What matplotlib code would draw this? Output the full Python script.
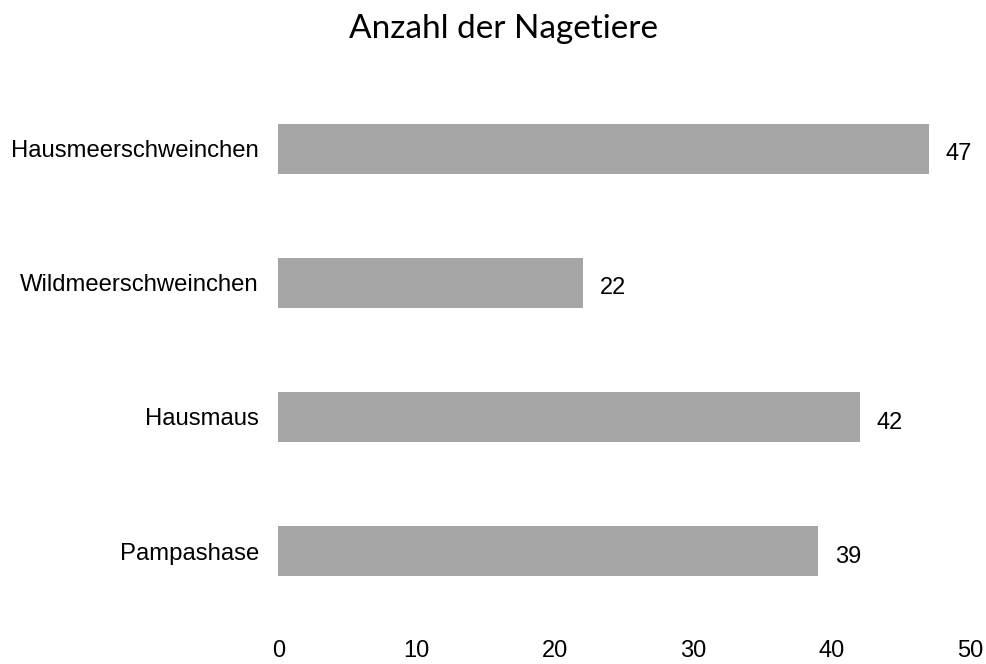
import matplotlib
matplotlib.use("Agg")
import matplotlib.pyplot as plt

categories = ["Hausmeerschweinchen", "Wildmeerschweinchen", "Hausmaus", "Pampashase"]
values = [47, 22, 42, 39]
xticks = [0, 10, 20, 30, 40, 50]
title = "Anzahl der Nagetiere"

fig = plt.figure(figsize=(9.87, 6.64), dpi=100)
ax = fig.add_axes([0.282, 0.069, 0.701, 0.808])

ypos = list(range(len(categories)))
ax.barh(ypos, values, height=0.37, color="#a5a5a5", edgecolor="none")
ax.set_ylim(len(categories) - 0.5, -0.5)
ax.set_xlim(0, 50)
ax.set_yticks(ypos)
ax.set_yticklabels(categories, fontfamily="Liberation Sans", fontsize=17.2)
ax.set_xticks(xticks)
ax.set_xticklabels([str(t) for t in xticks], fontfamily="Liberation Sans", fontsize=17)
ax.tick_params(axis="y", length=0, pad=14)
ax.tick_params(axis="x", length=0, pad=16)
for s in ax.spines.values():
    s.set_visible(False)

for y, v in zip(ypos, values):
    ax.annotate(str(v), (v, y), xytext=(12, -4), textcoords="offset points",
                va="center", ha="left", fontfamily="Liberation Sans", fontsize=17)

fig.text(0.51, 0.957, title, ha="center", va="center", fontfamily="Lato", fontsize=24)

fig.savefig("out.png", dpi=100)
